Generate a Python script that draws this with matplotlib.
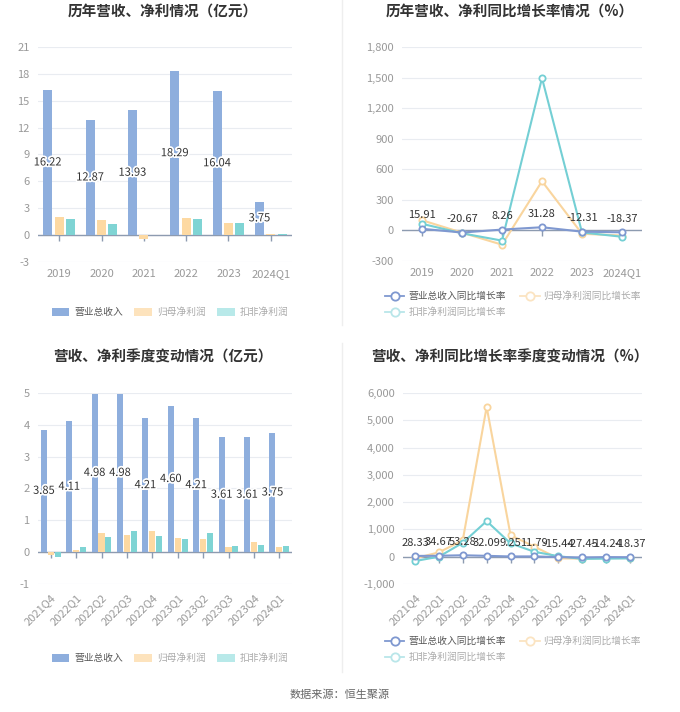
import numpy as np
import matplotlib
matplotlib.use("Agg")
import matplotlib.pyplot as plt
from matplotlib.patches import Patch
from matplotlib.lines import Line2D
import matplotlib.patheffects as pe
from matplotlib.ticker import FuncFormatter

plt.rcParams['font.family'] = ['Noto Sans CJK SC', 'DejaVu Sans']
plt.rcParams['axes.unicode_minus'] = False

# ---- data ----
years = ['2019', '2020', '2021', '2022', '2023', '2024Q1']
rev_y = [16.22, 12.87, 13.93, 18.29, 16.04, 3.75]
np_y = [2.05, 1.65, -0.45, 1.95, 1.35, 0.17]
kf_y = [1.75, 1.25, 0.05, 1.80, 1.40, 0.18]

rev_g_y = [15.91, -20.67, 8.26, 31.28, -12.31, -18.37]
np_g_y = [100, -22, -140, 483, -33, -50]
kf_g_y = [65, -28, -100, 1495, -20, -62]

quarters = ['2021Q4', '2022Q1', '2022Q2', '2022Q3', '2022Q4',
            '2023Q1', '2023Q2', '2023Q3', '2023Q4', '2024Q1']
rev_q = [3.85, 4.11, 4.98, 4.98, 4.21, 4.60, 4.21, 3.61, 3.61, 3.75]
np_q = [-0.10, 0.08, 0.60, 0.55, 0.67, 0.45, 0.42, 0.15, 0.33, 0.17]
kf_q = [-0.15, 0.15, 0.49, 0.66, 0.52, 0.42, 0.60, 0.20, 0.22, 0.18]

rev_g_q = [28.33, 34.67, 53.28, 32.09, 9.25, 11.79, -15.44, -27.45, -14.24, -18.37]
np_g_q = [-60, 160, 600, 5490, 790, 365, -60, -70, -50, -50]
kf_g_q = [-160, 0, 510, 1305, 490, 180, 20, -80, -70, -60]

bar_names = ['营业总收入', '归母净利润', '扣非净利润']
line_names = ['营业总收入同比增长率', '归母净利润同比增长率', '扣非净利润同比增长率']

c_rev = '#8eaedd'
c_np = '#fdd9a2'
c_kf = '#7fd4d4'
l_rev = '#7f98d0'
l_np = '#f9d59e'
l_kf = '#74cfd4'
grid_c = '#e9ecf1'
tick_c = '#999999'
axis_c = '#8d9bb0'

W, H = 680, 712
fig = plt.figure(figsize=(W / 100, H / 100), dpi=100)


def rect(l, t, r, b):
    return [l / W, 1 - b / H, (r - l) / W, (b - t) / H]


def style(ax, cats, ylim, yticks, rot=False, fmt=None):
    x = np.arange(len(cats))
    ax.set_xlim(-0.5, len(cats) - 0.5)
    ax.set_ylim(*ylim)
    ax.set_yticks(yticks)
    if fmt:
        ax.yaxis.set_major_formatter(FuncFormatter(fmt))
    for s in ax.spines.values():
        s.set_visible(False)
    ax.grid(axis='y', color=grid_c, lw=0.8)
    ax.set_axisbelow(True)
    ax.tick_params(axis='y', length=0, labelsize=8, labelcolor=tick_c, pad=6)
    ax.set_xticks(x)
    if rot:
        ax.set_xticklabels(cats, rotation=45, ha='right', rotation_mode='anchor')
        ax.tick_params(axis='x', length=0, labelsize=8, labelcolor=tick_c, pad=6)
    else:
        ax.set_xticklabels(cats)
        ax.tick_params(axis='x', length=0, labelsize=8, labelcolor=tick_c, pad=5)
    ax.axhline(0, color=axis_c, lw=1, zorder=2)
    ax.plot(x, np.zeros(len(cats)), ls='none', marker=3, ms=4, mew=1,
            color=axis_c, zorder=2)


def bars(ax, cats, rev, npv, kf, w, off):
    x = np.arange(len(cats))
    ax.bar(x - off, rev, w, color=c_rev, zorder=3)
    ax.bar(x, npv, w, color=c_np, zorder=3)
    ax.bar(x + off, kf, w, color=c_kf, zorder=3)
    for xi, v in zip(x, rev):
        ax.text(xi - off, v / 2, f'{v:.2f}', ha='center', va='center',
                fontsize=8, color='#333333', zorder=5,
                path_effects=[pe.withStroke(linewidth=2.5, foreground='white')])


def lines(ax, cats, rev, npv, kf):
    x = np.arange(len(cats))
    for vals, c in ((npv, l_np), (kf, l_kf), (rev, l_rev)):
        ax.plot(x, vals, color=c, lw=1.5, marker='o', ms=4.5, mfc='white',
                mec=c, mew=1.3, zorder=4)
    for xi, v in zip(x, rev):
        ax.annotate(f'{v:.2f}', (xi, v), xytext=(0, 6), textcoords='offset points',
                    ha='center', va='bottom', fontsize=8, color='#333333', zorder=6)


def bar_legend(y):
    hs = [Patch(facecolor=c_rev, edgecolor='none'),
          Patch(facecolor='#fde3bd', edgecolor='none'),
          Patch(facecolor='#b8e9e9', edgecolor='none')]
    lg = fig.legend(hs, bar_names, loc='center', bbox_to_anchor=(170 / W, 1 - y / H),
                    ncol=3, frameon=False, fontsize=7, handlelength=1.8,
                    handleheight=0.9, columnspacing=1.2, handletextpad=0.5)
    for t, c in zip(lg.get_texts(), ['#555555', '#aaaaaa', '#aaaaaa']):
        t.set_color(c)


def line_legend(xc, y):
    def h(c):
        return Line2D([], [], color=c, lw=1.3, marker='o', ms=6, mfc='white',
                      mec=c, mew=1.3)
    hs = [h(l_rev), h('#b9e6e9'), h('#fbe4c2')]
    labs = [line_names[0], line_names[2], line_names[1]]
    lg = fig.legend(hs, labs, loc='center', bbox_to_anchor=(xc / W, 1 - y / H),
                    ncol=2, frameon=False, fontsize=7, handlelength=2.0,
                    columnspacing=1.5, handletextpad=0.4, labelspacing=0.6)
    for t, c in zip(lg.get_texts(), ['#555555', '#aaaaaa', '#aaaaaa']):
        t.set_color(c)


# top-left: annual revenue / profit
ax1 = fig.add_axes(rect(38, 47, 292, 262))
style(ax1, years, (-3, 21), np.arange(-3, 22, 3))
bars(ax1, years, rev_y, np_y, kf_y, 0.21, 0.27)
fig.text(163 / W, 1 - 12 / H, '历年营收、净利情况（亿元）', ha='center', va='center',
         fontsize=10.5, fontweight='bold', color='#333333')
bar_legend(312)

# top-right: annual growth
ax2 = fig.add_axes(rect(402, 47, 642, 261))
style(ax2, years, (-300, 1800), np.arange(-300, 1801, 300),
      fmt=lambda v, p: f'{int(v):,}')
lines(ax2, years, rev_g_y, np_g_y, kf_g_y)
fig.text(510 / W, 1 - 12 / H, '历年营收、净利同比增长率情况（%）', ha='center', va='center',
         fontsize=10.5, fontweight='bold', color='#333333')
line_legend(513, 304)

# bottom-left: quarterly revenue / profit
ax3 = fig.add_axes(rect(38, 393, 292, 584))
style(ax3, quarters, (-1, 5), np.arange(-1, 6, 1), rot=True)
bars(ax3, quarters, rev_q, np_q, kf_q, 0.24, 0.27)
fig.text(163 / W, 1 - 357 / H, '营收、净利季度变动情况（亿元）', ha='center', va='center',
         fontsize=10.5, fontweight='bold', color='#333333')
bar_legend(658)

# bottom-right: quarterly growth
ax4 = fig.add_axes(rect(403, 393, 642, 584))
style(ax4, quarters, (-1000, 6000), np.arange(-1000, 6001, 1000), rot=True,
      fmt=lambda v, p: f'{int(v):,}')
lines(ax4, quarters, rev_g_q, np_g_q, kf_g_q)
fig.text(510 / W, 1 - 357 / H, '营收、净利同比增长率季度变动情况（%）', ha='center', va='center',
         fontsize=10.5, fontweight='bold', color='#333333')
line_legend(513, 649)

# dividers and source
fig.add_artist(Line2D([342 / W, 342 / W], [1 - 0 / H, 1 - 325 / H], color='#eeeeee',
                      lw=1, transform=fig.transFigure))
fig.add_artist(Line2D([342 / W, 342 / W], [1 - 343 / H, 1 - 672 / H], color='#eeeeee',
                      lw=1, transform=fig.transFigure))
fig.text(340 / W, 1 - 695 / H, '数据来源：恒生聚源', ha='center', va='center',
         fontsize=8, color='#666666')

fig.savefig('out.png', dpi=100, facecolor='white')
